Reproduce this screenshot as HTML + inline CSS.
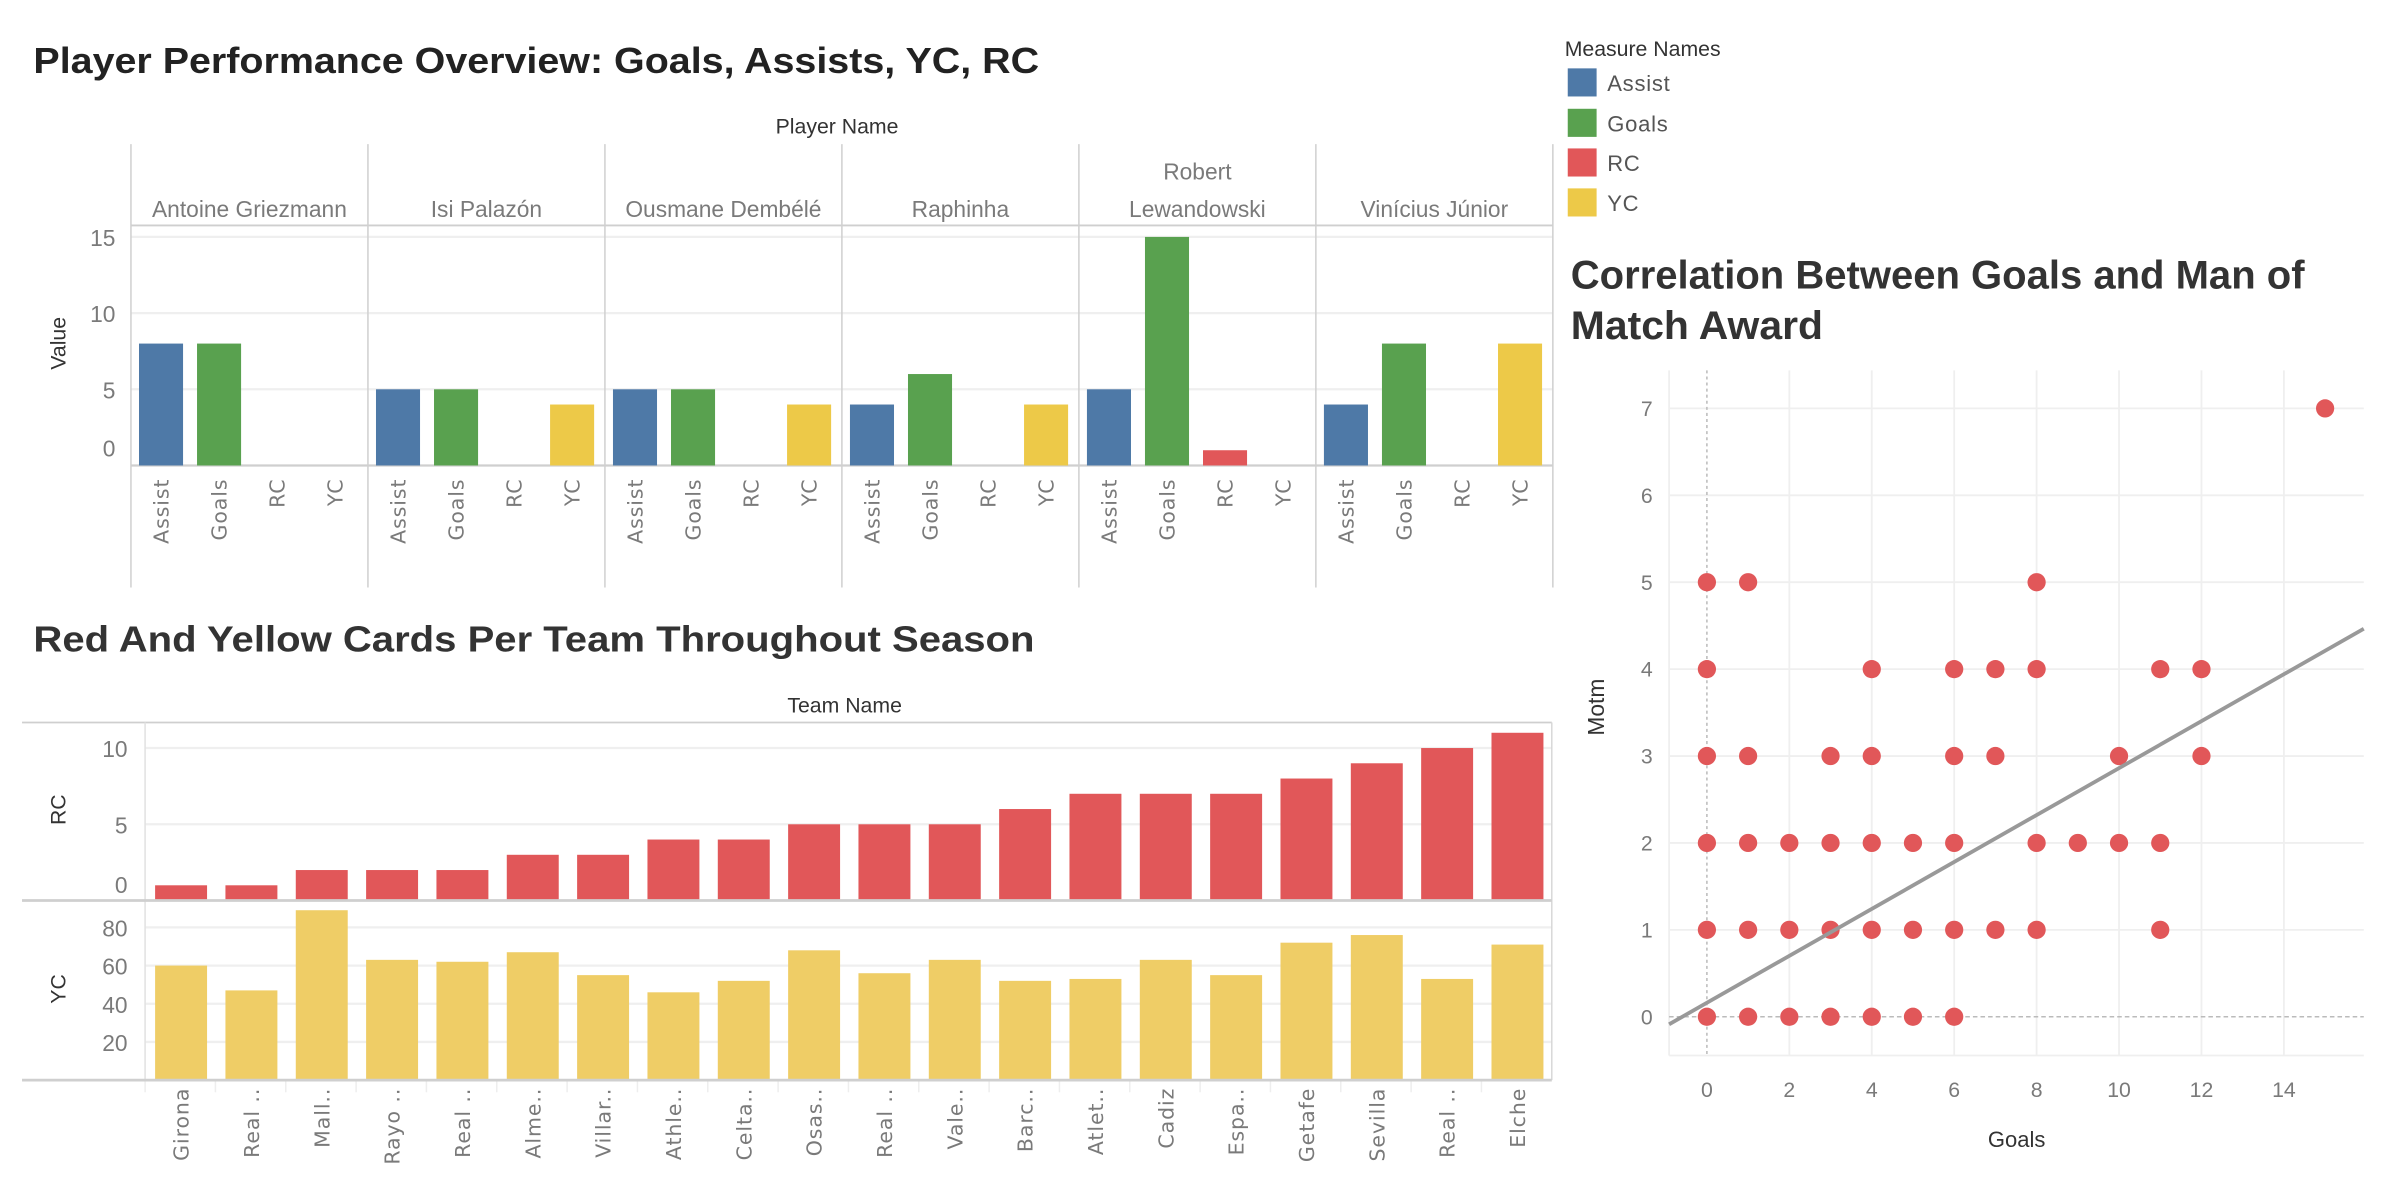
<!DOCTYPE html>
<html><head><meta charset="utf-8">
<style>
html,body{margin:0;padding:0;background:#fff;}
svg{display:block;}
text{font-family:"Liberation Sans",sans-serif;}
.tick{font-family:"Liberation Sans Narrow","Liberation Sans",sans-serif;fill:#7a7a7a;font-size:15px;}
.xl{font-family:"DejaVu Sans","Liberation Sans",sans-serif;fill:#7a7a7a;font-size:13.5px;letter-spacing:0.6px;}
</style></head>
<body>
<svg id="root" width="2382" height="1186" viewBox="0 0 1568 780.7" xmlns="http://www.w3.org/2000/svg"></svg>
<script>
// ---- Chart 1 data ----
const players = [["Antoine Griezmann"],["Isi Palazón"],["Ousmane Dembélé"],["Raphinha"],["Robert","Lewandowski"],["Vinícius Júnior"]];
const measures = ["Assist","Goals","RC","YC"];
const assistVals = [8,5,5,4,5,4];
const goalsVals = [8,5,5,6,15,8];
const rcVals = [0,0,0,0,1,0];
const ycVals = [0,4,4,4,0,8];
const valueTicks = [0,5,10,15];
// ---- Chart 2 data ----
const teams = ["Girona","Real ..","Mall..","Rayo ..","Real ..","Alme..","Villar..","Athle..","Celta..","Osas..","Real ..","Vale..","Barc..","Atlet..","Cadiz","Espa..","Getafe","Sevilla","Real ..","Elche"];
const teamRC = [1,1,2,2,2,3,3,4,4,5,5,5,6,7,7,7,8,9,10,11];
const teamYC = [60,47,89,63,62,67,55,46,52,68,56,63,52,53,63,55,72,76,53,71];
const rcTicks = [0,5,10];
const ycTicks = [20,40,60,80];
// ---- Chart 3 data ----
const goalsX = [0,1,8,15,0,4,6,7,8,11,12,0,1,3,4,6,7,10,12,0,1,2,3,4,5,6,8,9,10,11,0,1,2,3,4,5,6,7,8,11,0,1,2,3,4,5,6];
const motmY  = [5,5,5,7,4,4,4,4,4,4,4,3,3,3,3,3,3,3,3,2,2,2,2,2,2,2,2,2,2,2,1,1,1,1,1,1,1,1,1,1,0,0,0,0,0,0,0];
const trendCoef = [0.161,0.270];
const goalTicks = [0,2,4,6,8,10,12,14];
const motmTicks = [0,1,2,3,4,5,6,7];

const NS="http://www.w3.org/2000/svg";
const root=document.getElementById('root');
function mk(tag,attrs,parent,txt){const e=document.createElementNS(NS,tag);for(const k in attrs)e.setAttribute(k,attrs[k]);if(txt!==undefined)e.textContent=txt;(parent||root).appendChild(e);return e;}
const C={Assist:"#4e79a7",Goals:"#59a14f",RC:"#e15759",YC:"#edc948"};

// ===== Chart 1 =====
const g1=mk('g',{});


let t=mk('text',{x:22,y:48,'font-size':24,'font-weight':'bold',fill:'#222',textLength:662,lengthAdjust:'spacingAndGlyphs'},g1,"Player Performance Overview: Goals, Assists, YC, RC");

t=mk('text',{x:551,y:88,'font-size':14,fill:'#333','text-anchor':'middle'},g1,"Player Name");

const p0=86.2,pw=156,y0=306.4,yu=10.03;
function y1(v){return y0-v*yu;}
valueTicks.forEach(v=>{
  if(v>0){const l=mk('line',{x1:p0,x2:p0+6*pw,y1:y1(v),y2:y1(v),stroke:'#efefef','stroke-width':1.5},g1);
  }
  const tt=mk('text',{x:76,y:(v==0?y1(v)-6:y1(v)+6),'text-anchor':'end',class:'tick'},g1,String(v));
  
});
t=mk('text',{transform:'translate(43,226) rotate(-90)','font-size':14,fill:'#333','text-anchor':'middle'},g1,"Value");

mk('line',{x1:p0,x2:p0+6*pw,y1:148.4,y2:148.4,stroke:'#cfcfcf','stroke-width':1.2},g1);
mk('line',{x1:p0,x2:p0+6*pw,y1:y0,y2:y0,stroke:'#cfcfcf','stroke-width':1.5},g1);
const series=[assistVals,goalsVals,rcVals,ycVals];
for(let i=0;i<=6;i++){mk('line',{x1:p0+i*pw,x2:p0+i*pw,y1:94.9,y2:386.7,stroke:'#d0d0d0','stroke-width':1},g1);}
players.forEach((name,i)=>{
  const px=p0+i*pw;
  if(name.length==1){const n=mk('text',{x:px+pw/2,y:143,'text-anchor':'middle',class:'tick'},g1,name[0]);}
  else{const n=mk('text',{x:px+pw/2,y:118,'text-anchor':'middle',class:'tick'},g1,name[0]);
       const n2=mk('text',{x:px+pw/2,y:143,'text-anchor':'middle',class:'tick'},g1,name[1]);}
  measures.forEach((m,j)=>{
    const v=series[j][i];const bx=px+5.3+j*38.2;
    const r=mk('rect',{x:bx,y:y1(v),width:29,height:v*yu,fill:C[m]},g1);
    
    
    const lx=bx+14.5+5;
    const l=mk('text',{transform:`translate(${lx},315) rotate(-90)`,'text-anchor':'end',class:'xl'},g1,m);
    
    
  });
});

// ===== Legend =====
const lg=mk('g',{});

mk('text',{x:1030,y:37,'font-size':14,fill:'#333'},lg,"Measure Names");
const swY=[45,71.6,97.7,124];
measures.forEach((m,i)=>{
  const s=mk('rect',{x:1032,y:swY[i],width:19,height:18.5,fill:C[m]},lg);
  
  const tx=mk('text',{x:1058,y:swY[i]+15,'font-size':14.5,fill:'#555','letter-spacing':'0.5'},lg,m);
  
});

// ===== Chart 2 =====
const g2=mk('g',{});

t=mk('text',{x:22,y:429,'font-size':24,'font-weight':'bold',fill:'#333',textLength:659,lengthAdjust:'spacingAndGlyphs'},g2,"Red And Yellow Cards Per Team Throughout Season");

t=mk('text',{x:556,y:469,'font-size':14,fill:'#333','text-anchor':'middle'},g2,"Team Name");

const q0=95.5,qw=46.3,rc0=592.8,rcu=10.04,yc0=711,ycu=1.2565,top2=475.6;
function yr(v){return rc0-v*rcu;} function yy(v){return yc0-v*ycu;}
rcTicks.forEach(v=>{
  if(v>0)mk('line',{x1:q0,x2:q0+20*qw,y1:yr(v),y2:yr(v),stroke:'#efefef','stroke-width':1.5},g2);
  const tt=mk('text',{x:84,y:(v==0?yr(v)-5:yr(v)+6),'text-anchor':'end',class:'tick'},g2,String(v));
  
});
ycTicks.forEach(v=>{
  mk('line',{x1:q0,x2:q0+20*qw,y1:yy(v),y2:yy(v),stroke:'#efefef','stroke-width':1.5},g2);
  const tt=mk('text',{x:84,y:yy(v)+6,'text-anchor':'end',class:'tick'},g2,String(v));
  
});
t=mk('text',{transform:'translate(43,533) rotate(-90)','font-size':14,fill:'#333','text-anchor':'middle'},g2,"RC");

t=mk('text',{transform:'translate(43,651) rotate(-90)','font-size':14,fill:'#333','text-anchor':'middle'},g2,"YC");

mk('line',{x1:14.5,x2:q0+20*qw,y1:top2,y2:top2,stroke:'#cfcfcf','stroke-width':1.2},g2);
mk('line',{x1:q0,x2:q0,y1:top2,y2:yc0,stroke:'#e2e2e2','stroke-width':1},g2);
mk('line',{x1:q0+20*qw,x2:q0+20*qw,y1:top2,y2:yc0,stroke:'#d8d8d8','stroke-width':1},g2);
teams.forEach((tm,i)=>{
  const bx=q0+i*qw+6.6;
  const r=mk('rect',{x:bx,y:yr(teamRC[i]),width:34.2,height:teamRC[i]*rcu,fill:'#e15759'},g2);
  
  
  const r2=mk('rect',{x:bx,y:yy(teamYC[i]),width:34.2,height:teamYC[i]*ycu,fill:'#efcd66'},g2);
  
  
  mk('line',{x1:q0+i*qw,x2:q0+i*qw,y1:yc0,y2:yc0+8,stroke:'#eeeeee','stroke-width':1},g2);
  const l=mk('text',{transform:`translate(${bx+17.1+5},716) rotate(-90)`,'text-anchor':'end',class:'xl','font-size':14},g2,tm);
  
  
});
mk('line',{x1:14.5,x2:q0+20*qw,y1:rc0,y2:rc0,stroke:'#cfcfcf','stroke-width':1.8},g2);
mk('line',{x1:14.5,x2:q0+20*qw,y1:yc0,y2:yc0,stroke:'#cfcfcf','stroke-width':1.8},g2);

// ===== Chart 3 =====
const g3=mk('g',{});

t=mk('text',{x:1034,y:190,'font-size':26,'font-weight':'bold',fill:'#333',textLength:483,lengthAdjust:'spacingAndGlyphs'},g3,"Correlation Between Goals and Man of");

t=mk('text',{x:1034,y:223,'font-size':26,'font-weight':'bold',fill:'#333',textLength:166,lengthAdjust:'spacingAndGlyphs'},g3,"Match Award");

const sx0=1123.6,sxu=27.13,sy0=669.3,syu=57.21,L=1098.7,R=1556,T=243.8,B=694.8;
function sx(v){return sx0+v*sxu;} function sy(v){return sy0-v*syu;}
goalTicks.forEach(v=>{
  if(v>0)mk('line',{x1:sx(v),x2:sx(v),y1:T,y2:B,stroke:'#efefef','stroke-width':1.2},g3);
  const tt=mk('text',{x:sx(v),y:722,'text-anchor':'middle','font-size':14,fill:'#7a7a7a','font-family':'DejaVu Sans, sans-serif'},g3,String(v));
  
});
motmTicks.forEach(v=>{
  if(v>0)mk('line',{x1:L,x2:R,y1:sy(v),y2:sy(v),stroke:'#efefef','stroke-width':1.2},g3);
  const tt=mk('text',{x:1084,y:sy(v)+5,'text-anchor':'middle','font-size':14,fill:'#7a7a7a','font-family':'DejaVu Sans, sans-serif'},g3,String(v));
  
});
mk('line',{x1:L,x2:L,y1:T,y2:B,stroke:'#efefef','stroke-width':1.2},g3);
mk('line',{x1:L,x2:R,y1:B,y2:B,stroke:'#efefef','stroke-width':1.2},g3);
mk('line',{x1:sx(0),x2:sx(0),y1:T,y2:B,stroke:'#bbbbbb','stroke-width':1,'stroke-dasharray':'2,2'},g3);
mk('line',{x1:L,x2:R,y1:sy(0),y2:sy(0),stroke:'#bbbbbb','stroke-width':1,'stroke-dasharray':'3,2'},g3);
t=mk('text',{x:1327.5,y:755,'text-anchor':'middle','font-size':14.5,fill:'#333','font-family':'DejaVu Sans, sans-serif'},g3,"Goals");

t=mk('text',{transform:'translate(1056,465.5) rotate(-90)','text-anchor':'middle','font-size':15,fill:'#333'},g3,"Motm");

goalsX.forEach((gx,i)=>{
  const c=mk('circle',{cx:sx(gx),cy:sy(motmY[i]),r:6,fill:'#e15759'},g3);
  
  
});
const xa=(L-sx0)/sxu, xb=(R-sx0)/sxu;
const tl=mk('line',{x1:L,y1:sy(trendCoef[0]+trendCoef[1]*xa),x2:R,y2:sy(trendCoef[0]+trendCoef[1]*xb),stroke:'#999','stroke-width':2.5},g3);


</script>
</body></html>
